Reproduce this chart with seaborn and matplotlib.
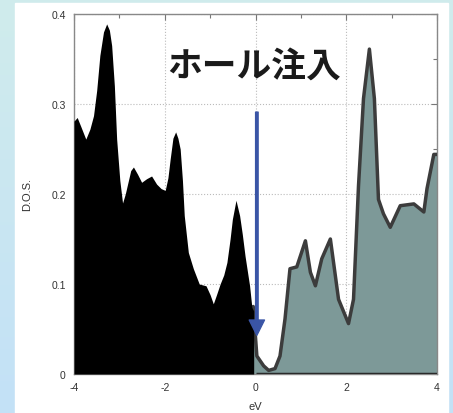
import numpy as np
import matplotlib.pyplot as plt
import seaborn as sns
from matplotlib.colors import LinearSegmentedColormap
from matplotlib.patches import Rectangle

sns.set_style("white")
plt.rcParams['font.family'] = ['Liberation Sans', 'DejaVu Sans']

# occupied states (black), eV vs D.O.S.
occ_ev = [-4.0, -3.93, -3.85, -3.74, -3.65, -3.57, -3.50, -3.43, -3.35, -3.28, -3.22, -3.17,
          -3.11, -3.06, -2.99, -2.93, -2.87, -2.81, -2.75, -2.69, -2.60, -2.51, -2.40, -2.29,
          -2.18, -2.08, -1.99, -1.93, -1.88, -1.82, -1.76, -1.71, -1.66, -1.61, -1.57, -1.48,
          -1.37, -1.24, -1.09, -1.00, -0.93, -0.86, -0.78, -0.70, -0.63, -0.56, -0.51, -0.43,
          -0.35, -0.29, -0.23, -0.13, -0.08, -0.04, -0.04]
occ_dos = [0.281, 0.285, 0.275, 0.261, 0.272, 0.287, 0.315, 0.354, 0.380, 0.389, 0.382, 0.365,
           0.320, 0.261, 0.215, 0.190, 0.200, 0.213, 0.226, 0.230, 0.222, 0.213, 0.217, 0.220,
           0.211, 0.206, 0.204, 0.218, 0.239, 0.262, 0.269, 0.262, 0.250, 0.215, 0.176, 0.135,
           0.117, 0.100, 0.098, 0.088, 0.078, 0.088, 0.100, 0.110, 0.124, 0.150, 0.172, 0.193,
           0.176, 0.155, 0.131, 0.098, 0.074, 0.070, 0.0]

# unoccupied states (grey-teal)
emp_ev = [-0.05, 0.03, 0.18, 0.29, 0.43, 0.54, 0.65, 0.76, 0.91, 1.10, 1.21, 1.32, 1.46,
          1.65, 1.83, 2.05, 2.16, 2.27, 2.38, 2.51, 2.62, 2.71, 2.82, 2.97, 3.19, 3.49, 3.71,
          3.78, 3.93, 4.0]
emp_dos = [0.075, 0.020, 0.009, 0.004, 0.006, 0.020, 0.061, 0.117, 0.119, 0.148, 0.113, 0.098,
           0.128, 0.150, 0.083, 0.056, 0.083, 0.209, 0.306, 0.361, 0.306, 0.194, 0.178, 0.163,
           0.187, 0.189, 0.180, 0.206, 0.244, 0.244]

W, H = 453, 414
fig = plt.figure(figsize=(W / 100, H / 100), dpi=100)

# light blue slide background with white panel
bg = fig.add_axes([0, 0, 1, 1], zorder=-2)
grad = np.linspace(0, 1, 256).reshape(-1, 1)
cmap = LinearSegmentedColormap.from_list('bg', ['#d0ecec', '#c3e1f7'])
bg.imshow(grad, aspect='auto', cmap=cmap, extent=[0, 1, 0, 1], origin='upper')
bg.add_patch(Rectangle((15 / W, 0), (448 - 15) / W, (H - 4) / H, color='white'))
bg.set_xlim(0, 1)
bg.set_ylim(0, 1)
bg.axis('off')

ax = fig.add_axes([74 / W, 39 / H, (437 - 74) / W, (375 - 15) / H])
ax.set_facecolor('white')

ax.fill_between(emp_ev, emp_dos, color='#7d9998', lw=0, zorder=2)
sns.lineplot(x=emp_ev, y=emp_dos, color='#3c3c3c', lw=2.5, ax=ax, zorder=3,
             sort=False, estimator=None)
ax.plot([0, 4], [0, 0], color='#2a2a2a', lw=2.5, zorder=3, solid_capstyle='butt')
ax.fill_between(occ_ev, occ_dos, color='black', lw=0, zorder=4)

ax.annotate('', xy=(0.03, 0.043), xytext=(0.03, 0.291),
            arrowprops=dict(width=1.8, headwidth=11, headlength=11, color='#3a55a6'),
            zorder=6)
ax.text(-0.04, 0.343, 'ホール注入', fontsize=25, fontweight='bold',
        family=['Noto Sans CJK JP', 'DejaVu Sans'], ha='center', va='center',
        color='#1a1a1a', zorder=6)

ax.set_xlim(-4, 4)
ax.set_ylim(0, 0.4)
ax.set_xticks([-4, -2, 0, 2, 4])
ax.set_xticks([-3, -1, 1, 3], minor=True)
ax.set_xticklabels(['-4', '-2', '0', '2', '4'])
ax.set_yticks([0, 0.1, 0.2, 0.3, 0.4])
ax.set_yticks([0.05, 0.15, 0.25, 0.35], minor=True)
ax.set_yticklabels(['0', '0.1', '0.2', '0.3', '0.4'])
ax.tick_params(which='both', direction='in', top=True, right=True, color='#777777',
               labelsize=7.5, labelcolor='#333333', width=0.8)
ax.tick_params(which='major', length=4, pad=6)
ax.tick_params(which='minor', length=3)
ax.grid(True, which='major', ls=':', color='#bbbbbb', lw=0.8, zorder=1)
ax.set_axisbelow(True)
for s in ax.spines.values():
    s.set_color('#888888')
    s.set_linewidth(1)

ax.set_xlabel('eV', fontsize=8, color='#333333', labelpad=6)
ax.set_ylabel('D.O.S.', fontsize=8, color='#333333', labelpad=14)

fig.savefig('out.png', dpi=100)
